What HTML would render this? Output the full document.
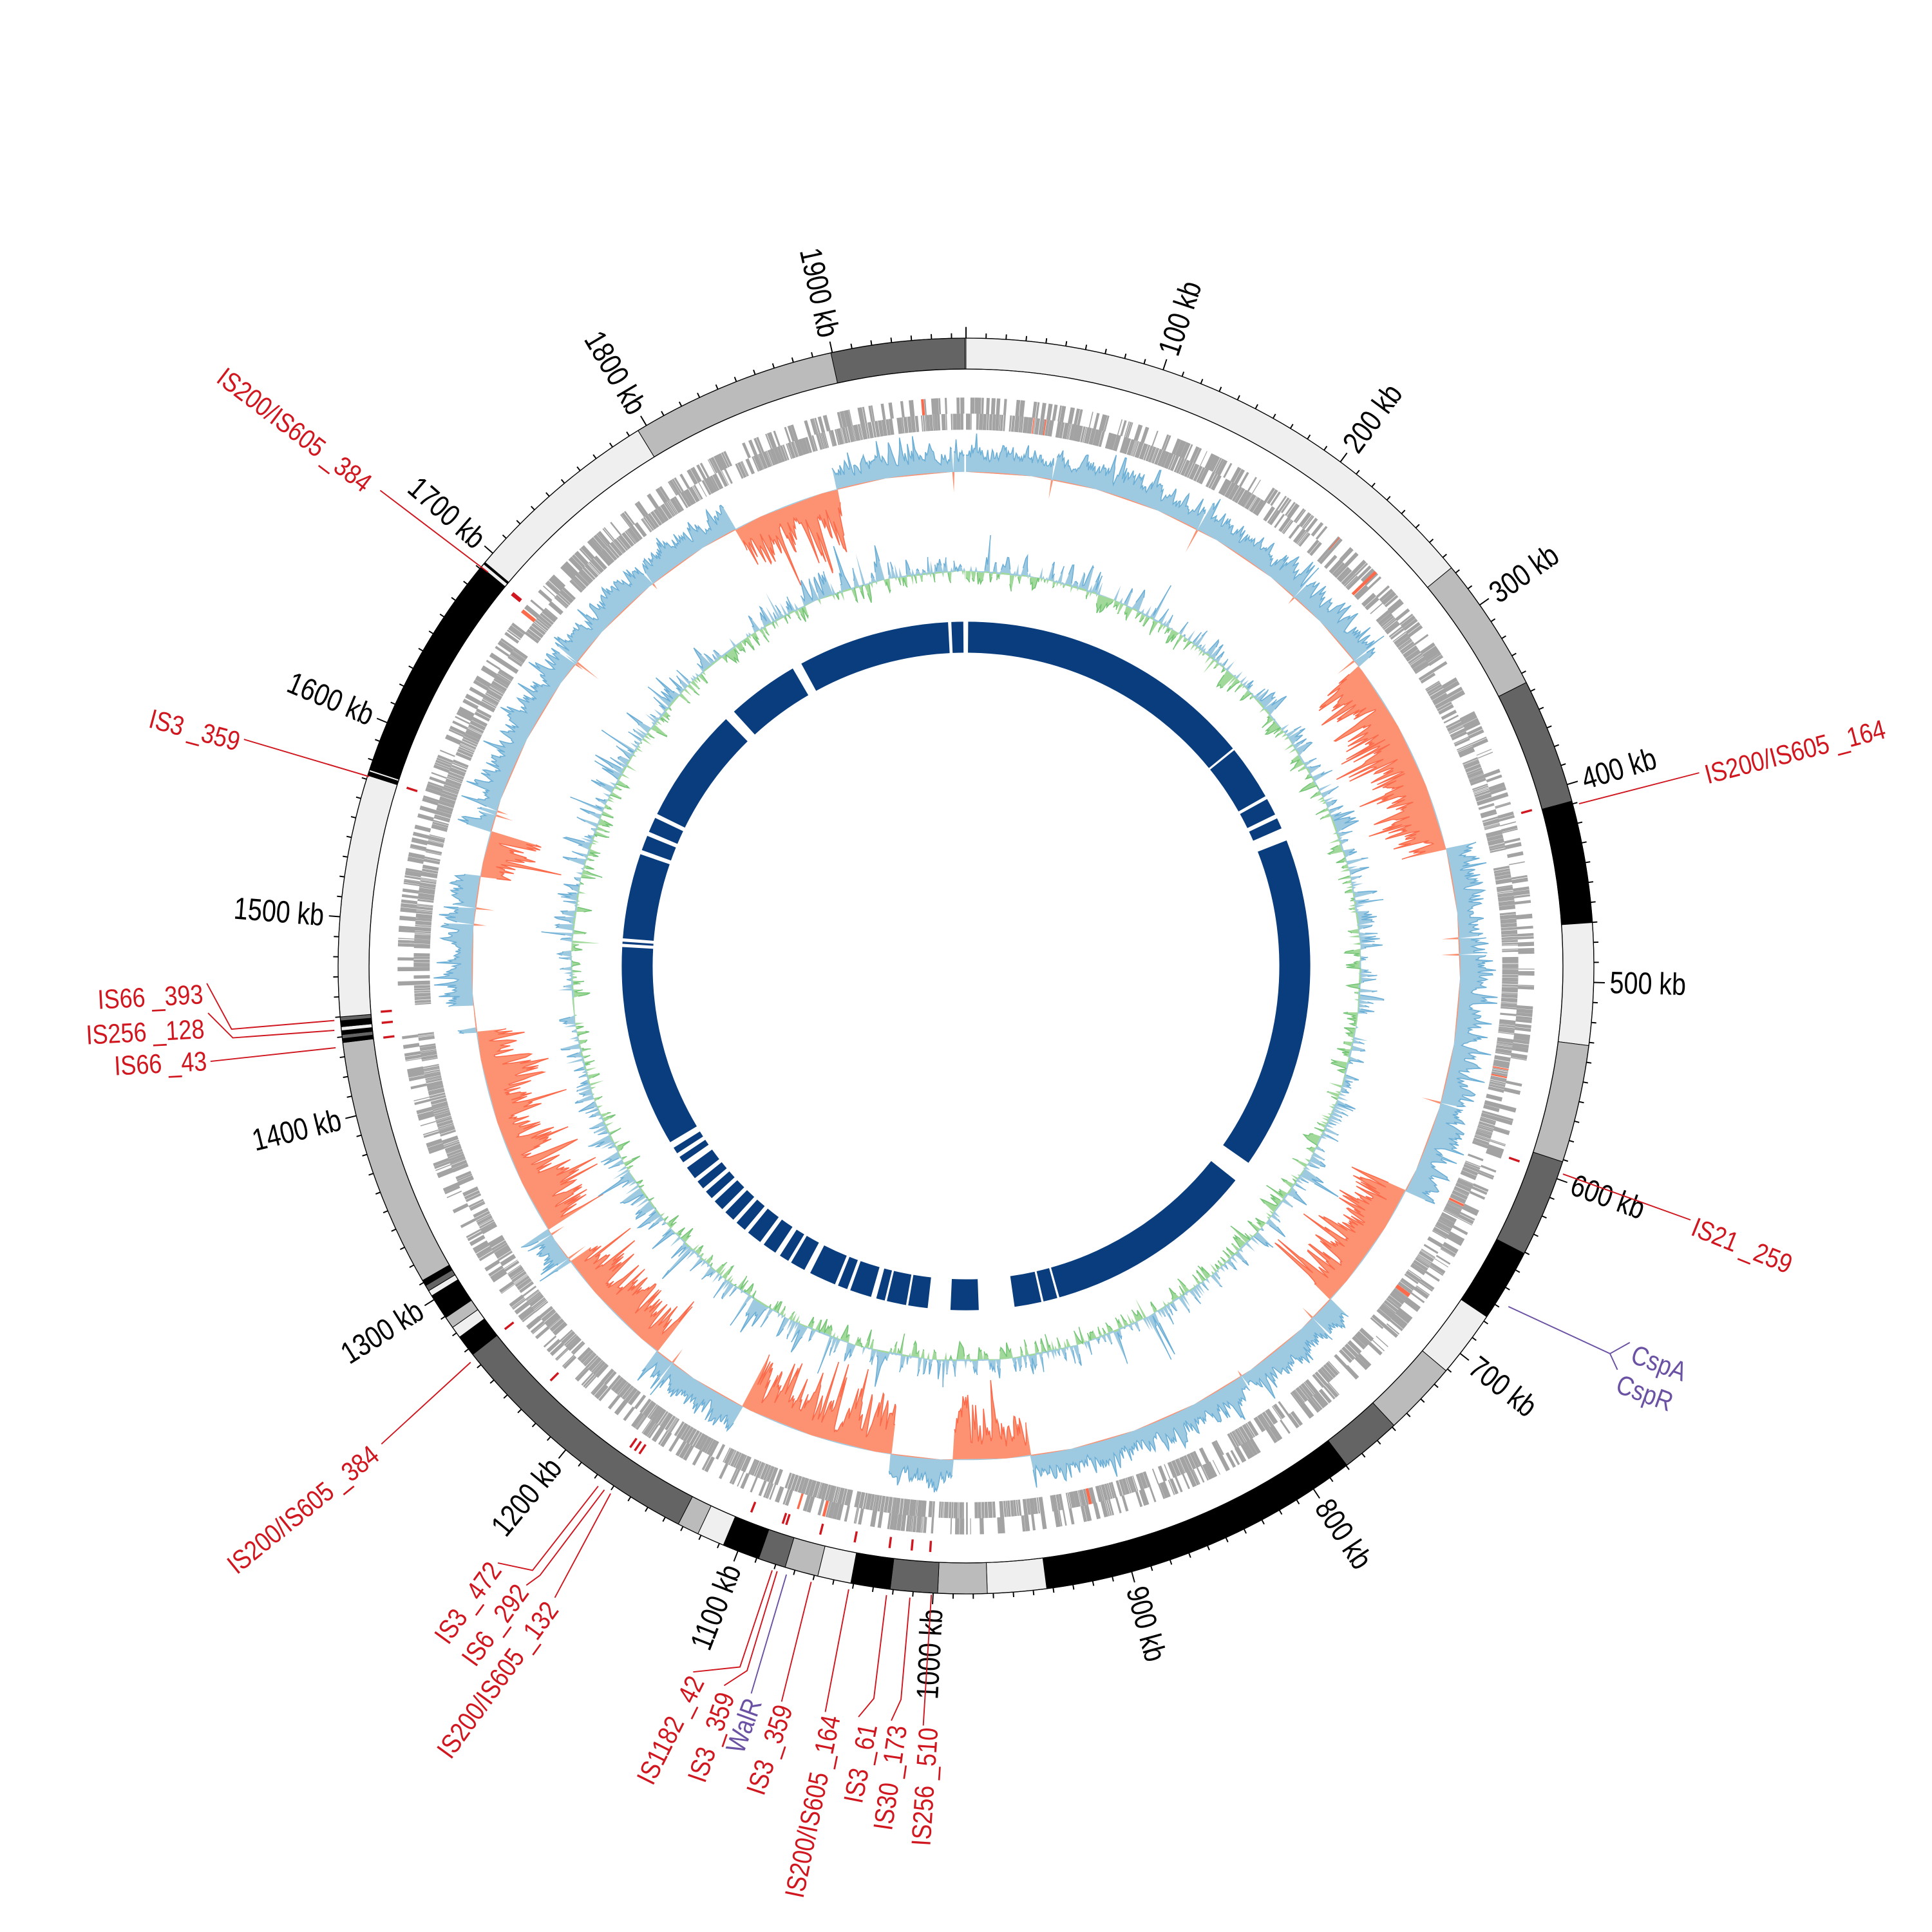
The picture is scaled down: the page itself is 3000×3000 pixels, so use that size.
<!DOCTYPE html>
<html><head><meta charset="utf-8"><style>html,body{margin:0;padding:0;background:#fff}svg{display:block}
.kb{font-family:"Liberation Sans Narrow","Liberation Sans",sans-serif;font-size:25px;fill:#000}
.is{font-family:"Liberation Sans Narrow","Liberation Sans",sans-serif;font-size:22px;fill:#d0161e}
.pu{font-family:"Liberation Sans Narrow","Liberation Sans",sans-serif;font-size:22px;fill:#6a51a3}
</style></head><body>
<svg id="s" xmlns="http://www.w3.org/2000/svg" width="3000" height="3000" viewBox="0 0 1560 1560">
<rect width="1560" height="1560" fill="#fff"/>
<g id="data"></g>
<g id="ring"></g>
<g id="ticks" stroke="#000" stroke-width="1"></g>
<g class="kb" dominant-baseline="central">
<text x="780" y="260" transform="rotate(18.3 780 780) rotate(-90 780 260) translate(780 260) scale(0.82 1) translate(-780 -260)">100 kb</text>
<text x="780" y="260" transform="rotate(36.6 780 780) rotate(-90 780 260) translate(780 260) scale(0.82 1) translate(-780 -260)">200 kb</text>
<text x="780" y="260" transform="rotate(54.9 780 780) rotate(-90 780 260) translate(780 260) scale(0.82 1) translate(-780 -260)">300 kb</text>
<text x="780" y="260" transform="rotate(73.2 780 780) rotate(-90 780 260) translate(780 260) scale(0.82 1) translate(-780 -260)">400 kb</text>
<text x="780" y="260" transform="rotate(91.5 780 780) rotate(-90 780 260) translate(780 260) scale(0.82 1) translate(-780 -260)">500 kb</text>
<text x="780" y="260" transform="rotate(109.8 780 780) rotate(-90 780 260) translate(780 260) scale(0.82 1) translate(-780 -260)">600 kb</text>
<text x="780" y="260" transform="rotate(128.1 780 780) rotate(-90 780 260) translate(780 260) scale(0.82 1) translate(-780 -260)">700 kb</text>
<text x="780" y="260" transform="rotate(146.4 780 780) rotate(-90 780 260) translate(780 260) scale(0.82 1) translate(-780 -260)">800 kb</text>
<text x="780" y="260" transform="rotate(164.7 780 780) rotate(-90 780 260) translate(780 260) scale(0.82 1) translate(-780 -260)">900 kb</text>
<text x="780" y="260" text-anchor="end" transform="rotate(183 780 780) rotate(90 780 260) translate(780 260) scale(0.82 1) translate(-780 -260)">1000 kb</text>
<text x="780" y="260" text-anchor="end" transform="rotate(201.3 780 780) rotate(90 780 260) translate(780 260) scale(0.82 1) translate(-780 -260)">1100 kb</text>
<text x="780" y="260" text-anchor="end" transform="rotate(219.6 780 780) rotate(90 780 260) translate(780 260) scale(0.82 1) translate(-780 -260)">1200 kb</text>
<text x="780" y="260" text-anchor="end" transform="rotate(237.9 780 780) rotate(90 780 260) translate(780 260) scale(0.82 1) translate(-780 -260)">1300 kb</text>
<text x="780" y="260" text-anchor="end" transform="rotate(256.2 780 780) rotate(90 780 260) translate(780 260) scale(0.82 1) translate(-780 -260)">1400 kb</text>
<text x="780" y="260" text-anchor="end" transform="rotate(274.5 780 780) rotate(90 780 260) translate(780 260) scale(0.82 1) translate(-780 -260)">1500 kb</text>
<text x="780" y="260" text-anchor="end" transform="rotate(292.8 780 780) rotate(90 780 260) translate(780 260) scale(0.82 1) translate(-780 -260)">1600 kb</text>
<text x="780" y="260" text-anchor="end" transform="rotate(311.1 780 780) rotate(90 780 260) translate(780 260) scale(0.82 1) translate(-780 -260)">1700 kb</text>
<text x="780" y="260" text-anchor="end" transform="rotate(329.4 780 780) rotate(90 780 260) translate(780 260) scale(0.82 1) translate(-780 -260)">1800 kb</text>
<text x="780" y="260" text-anchor="end" transform="rotate(347.7 780 780) rotate(90 780 260) translate(780 260) scale(0.82 1) translate(-780 -260)">1900 kb</text>
</g>
<g fill="none" stroke="#d0161e" stroke-width="1">
<polyline points="1275,649 1372,624"/>
<polyline points="1262,948 1365,985"/>
<polyline points="394,462 307,396"/>
<polyline points="298,627 197,597"/>
<polyline points="270,824 187,831 167,794"/>
<polyline points="270,832 188,838 168,818"/>
<polyline points="271,846 170,857"/>
<polyline points="380,1100 308,1166"/>
<polyline points="483,1200 430,1268 402,1262"/>
<polyline points="488,1203 436,1272 425,1280"/>
<polyline points="493,1206 448,1290"/>
<polyline points="623.5,1268 597.5,1346 559.7,1350"/>
<polyline points="627.5,1268.7 603.2,1349 584.7,1361"/>
<polyline points="655,1277.3 631.1,1374"/>
<polyline points="685.3,1283.3 666.4,1382.3"/>
<polyline points="715.8,1288 705.6,1371.4 693.2,1386.3"/>
<polyline points="734.7,1290 727.5,1372.3 719.7,1389.3"/>
<polyline points="752,1287.7 745.5,1393.3"/>
</g>
<g fill="none" stroke="#6a51a3" stroke-width="1">
<polyline points="1218,1055 1300,1093 1316,1084"/>
<polyline points="1300,1093 1306,1106"/>
<polyline points="635,1271.4 606.6,1367.4"/>
</g>
<g class="is" dominant-baseline="central">
<text x="1377" y="626" transform="rotate(-14.5 1377 626) translate(1377 626) scale(0.85 1) translate(-1377 -626)">IS200/IS605 _164</text>
<text x="1367" y="990" transform="rotate(22 1367 990) translate(1367 990) scale(0.85 1) translate(-1367 -990)">IS21 _259</text>
<text x="178" y="302" transform="rotate(37.2 178 302) translate(178 302) scale(0.85 1) translate(-178 -302)">IS200/IS605 _384</text>
<text x="121" y="580" transform="rotate(15 121 580) translate(121 580) scale(0.85 1) translate(-121 -580)">IS3 _359</text>
<text x="164" y="803" text-anchor="end" transform="rotate(-3 164 803) translate(164 803) scale(0.85 1) translate(-164 -803)">IS66 _393</text>
<text x="165" y="831" text-anchor="end" transform="rotate(-3 165 831) translate(165 831) scale(0.85 1) translate(-165 -831)">IS256 _128</text>
<text x="167" y="857" text-anchor="end" transform="rotate(-3 167 857) translate(167 857) scale(0.85 1) translate(-167 -857)">IS66 _43</text>
<text x="303" y="1172" text-anchor="end" transform="rotate(-39 303 1172) translate(303 1172) scale(0.85 1) translate(-303 -1172)">IS200/IS605 _384</text>
<text x="400" y="1264" text-anchor="end" transform="rotate(-54 400 1264) translate(400 1264) scale(0.85 1) translate(-400 -1264)">IS3 _472</text>
<text x="422" y="1282" text-anchor="end" transform="rotate(-54 422 1282) translate(422 1282) scale(0.85 1) translate(-422 -1282)">IS6 _292</text>
<text x="446" y="1296" text-anchor="end" transform="rotate(-54 446 1296) translate(446 1296) scale(0.85 1) translate(-446 -1296)">IS200/IS605 _132</text>
<text x="562.7" y="1355" text-anchor="end" transform="rotate(-63.4 562.7 1355) translate(562.7 1355) scale(0.85 1) translate(-562.7 -1355)">IS1182 _42</text>
<text x="586.6" y="1367.4" text-anchor="end" transform="rotate(-71 586.6 1367.4) translate(586.6 1367.4) scale(0.85 1) translate(-586.6 -1367.4)">IS3 _359</text>
<text x="633.4" y="1377.4" text-anchor="end" transform="rotate(-71.6 633.4 1377.4) translate(633.4 1377.4) scale(0.85 1) translate(-633.4 -1377.4)">IS3 _359</text>
<text x="671.4" y="1385.4" text-anchor="end" transform="rotate(-78.4 671.4 1385.4) translate(671.4 1385.4) scale(0.85 1) translate(-671.4 -1385.4)">IS200/IS605 _164</text>
<text x="701.3" y="1392.3" text-anchor="end" transform="rotate(-78.9 701.3 1392.3) translate(701.3 1392.3) scale(0.85 1) translate(-701.3 -1392.3)">IS3 _61</text>
<text x="725.1" y="1393.3" text-anchor="end" transform="rotate(-81.8 725.1 1393.3) translate(725.1 1393.3) scale(0.85 1) translate(-725.1 -1393.3)">IS30 _173</text>
<text x="750" y="1395" text-anchor="end" transform="rotate(-86.3 750 1395) translate(750 1395) scale(0.85 1) translate(-750 -1395)">IS256 _510</text>
</g>
<g class="pu" dominant-baseline="central">
<text x="1318" y="1093" transform="rotate(20 1318 1093) translate(1318 1093) scale(0.85 1) translate(-1318 -1093)">CspA</text>
<text x="1306" y="1117" transform="rotate(20 1306 1117) translate(1306 1117) scale(0.85 1) translate(-1306 -1117)">CspR</text>
<text x="608.6" y="1372.3" text-anchor="end" transform="rotate(-70 608.6 1372.3) translate(608.6 1372.3) scale(0.85 1) translate(-608.6 -1372.3)">WalR</text>
</g>
</svg>
<script>
(function(){
const C=780, DEG=0.1815, D=DEG*Math.PI/180, G=1983;
function P(r,k){const t=k*D;return [(C+r*Math.sin(t)).toFixed(2),(C-r*Math.cos(t)).toFixed(2)];}
function secD(r1,r2,k1,k2){
 const large=((k2-k1)*DEG>180)?1:0;
 const a=P(r2,k1),b=P(r2,k2),c=P(r1,k2),d=P(r1,k1);
 return "M"+a+"A"+r2+" "+r2+" 0 "+large+" 1 "+b+"L"+c+"A"+r1+" "+r1+" 0 "+large+" 0 "+d+"Z";
}
let seed=12345;
function rng(){seed|=0;seed=seed+0x6D2B79F5|0;let t=Math.imul(seed^seed>>>15,1|seed);t=t+Math.imul(t^t>>>7,61|t)^t;return((t^t>>>14)>>>0)/4294967296;}
const data=document.getElementById('data');
let h='';
function inGap(k){return k>1448&&k<1463;}
const lanes=[[433,446,0.85],[446,459,0.45]];
let gd='',rd='';
for(const [r1,r2,den] of lanes){
 let k=0;
 while(k<G-1){
  const len=0.4+rng()*2.2;
  if(!inGap(k) && rng()<den){
   let rr1=r1,rr2=r2;
   if(rng()<0.12){ if(r1===433) rr2=459; }
   if(rng()<0.01) rd+=secD(rr1,rr2,k,Math.min(k+len,G));
   else gd+=secD(rr1,rr2,k,Math.min(k+len,G));
  }
  k+=len+rng()*0.3;
  if(rng()<0.015) k+=2+rng()*5;
 }
}
h+='<path d="'+gd+'" fill="#a3a3a3"/>';
h+='<path d="'+rd+'" fill="#fb6a4a"/>';
const red=[[290,420],[645,730],[950,1000],[1040,1140],[1205,1285],[1310,1445],[1545,1575],[1830,1900]];
function isRed(k){for(const [a,b] of red) if(k>=a&&k<=b) return true;return false;}
function track(base,step,valf,posFill,posStroke,negFill,negStroke){
 let vals=[];
 for(let k=0;k<=G;k+=step){vals.push([k,inGap(k)?0:valf(k)]);}
 let pf='',nf='',ps='',ns='';
 const n=vals.length, CH=60;
 for(let i=0;i<n-1;i+=CH){
  const j=Math.min(i+CH,n-1);
  let p1='M'+P(base,vals[i][0]),p2='M'+P(base,vals[i][0]);
  for(let q=i;q<=j;q++){const [k,v]=vals[q];p1+='L'+P(base+Math.max(v,0),k);p2+='L'+P(base+Math.min(v,0),k);}
  p1+='L'+P(base,vals[j][0])+'Z';p2+='L'+P(base,vals[j][0])+'Z';
  pf+=p1;nf+=p2;
 }
 let inP=false,inN=false;
 for(let q=0;q<n;q++){const [k,v]=vals[q];
  if(v>0){ps+=(inP?'L':'M')+P(base+v,k);inP=true;}else inP=false;
  if(v<0){ns+=(inN?'L':'M')+P(base+v,k);inN=true;}else inN=false;
 }
 return '<path d="'+pf+'" fill="'+posFill+'"/><path d="'+nf+'" fill="'+negFill+'"/>'+
  '<path d="'+ps+'" fill="none" stroke="'+posStroke+'" stroke-width="0.8"/><path d="'+ns+'" fill="none" stroke="'+negStroke+'" stroke-width="0.8"/>';
}
let prev=0.5;
h+=track(399,0.7,function(k){
 const r=rng(); prev=0.55*prev+0.45*r;
 let sp=rng()<0.08?rng()*0.6:0;
 if(isRed(k)){return -(6+58*Math.min(1,Math.pow(prev,1.6)+sp));}
 if(rng()<0.012) return -(5+rng()*18);
 return 5+26*Math.min(1,Math.pow(prev,1.3)+sp);
},'#9ecae1','#6baed6','#fc9272','#fb6a4a');
let pv=0;
h+=track(319,1.0,function(k){
 const r=rng()-0.5; pv=0.4*pv+0.6*r;
 let v=pv*60;
 if(rng()<0.08) v+=(rng()-0.4)*60;
 return v>0? v*0.8 : v*0.6;
},'#9ecae1','#6baed6','#a1d99b','#74c476');
const inner=[[2,280],[282,333],[336,352],[356,366],[378,688],[708,905],[907,920],[922,947],[980,1006],[1027,1045],[1047,1065],[1067,1075],[1080,1100],[1103,1112],[1115,1140],[1146,1160],[1163,1172],[1177,1190],[1194,1208],[1212,1222],[1226,1236],[1240,1250],[1254,1262],[1266,1274],[1278,1290],[1296,1302],[1306,1312],[1318,1505],[1508,1510],[1513,1592],[1596,1610],[1614,1628],[1632,1740],[1750,1817],[1826,1967],[1970,1981]];
let idd='';for(const [a,b] of inner) idd+=secD(253,278,a,b);
h+='<path d="'+idd+'" fill="#0a3d7e"/>';
const mk=[411,603,1704,1585,1449,1457,1463,1277,1178,1181,1184,1092,1090,1071,1052,1033,1021,1011,1110,1705,1240];
let md='';for(const k of mk) md+=secD(465,474,k-0.6,k+0.6);
h+='<path d="'+md+'" fill="#d0161e"/>';
data.innerHTML=h;
const L='#efefef',M='#bbbbbb',Dk='#646464',B='#000';
const segs=[[0,279,L],[279,348,M],[348,412,Dk],[412,474,B],[474,536,L],[536,596,M],[596,646,Dk],[646,683,B],[683,717,L],[717,755,M],[755,786,Dk],[786,951,B],[951,981,L],[981,1006,M],[1006,1030,Dk],[1030,1050,B],[1050,1067,L],[1067,1084,M],[1084,1098,Dk],[1098,1117,B],[1117,1131,L],[1131,1142,M],[1142,1277,Dk],[1277,1288,B],[1288,1294,L],[1294,1300,M],[1300,1313,B],[1313,1316,L],[1316,1319,Dk],[1319,1322,B],[1322,1449,M],[1449,1451,B],[1451,1453,Dk],[1453,1455,B],[1455,1457,L],[1457,1460,B],[1460,1462,Dk],[1462,1585,L],[1585,1587,B],[1587,1588,L],[1588,1705,B],[1705,1707,L],[1707,1708,B],[1708,1810,L],[1810,1915,M],[1915,1983,Dk]];
let rh='';for(const [a,b,c] of segs) rh+='<path d="'+secD(482,507,a,b)+'" fill="'+c+'" stroke="#000" stroke-width="0.5"/>';
rh+='<circle cx="780" cy="780" r="507" fill="none" stroke="#000" stroke-width="0.7"/><circle cx="780" cy="780" r="482" fill="none" stroke="#000" stroke-width="0.7"/>';
document.getElementById('ring').innerHTML=rh;
let th='';
for(let kb=0;kb<=1960;kb+=10){
 const t=kb*0.183*Math.PI/180, r2=(kb%100===0)?516:511;
 const x1=C+507*Math.sin(t),y1=C-507*Math.cos(t),x2=C+r2*Math.sin(t),y2=C-r2*Math.cos(t);
 th+='<line x1="'+x1.toFixed(2)+'" y1="'+y1.toFixed(2)+'" x2="'+x2.toFixed(2)+'" y2="'+y2.toFixed(2)+'"/>';
}
document.getElementById('ticks').innerHTML=th;
})();
</script>
</body></html>
